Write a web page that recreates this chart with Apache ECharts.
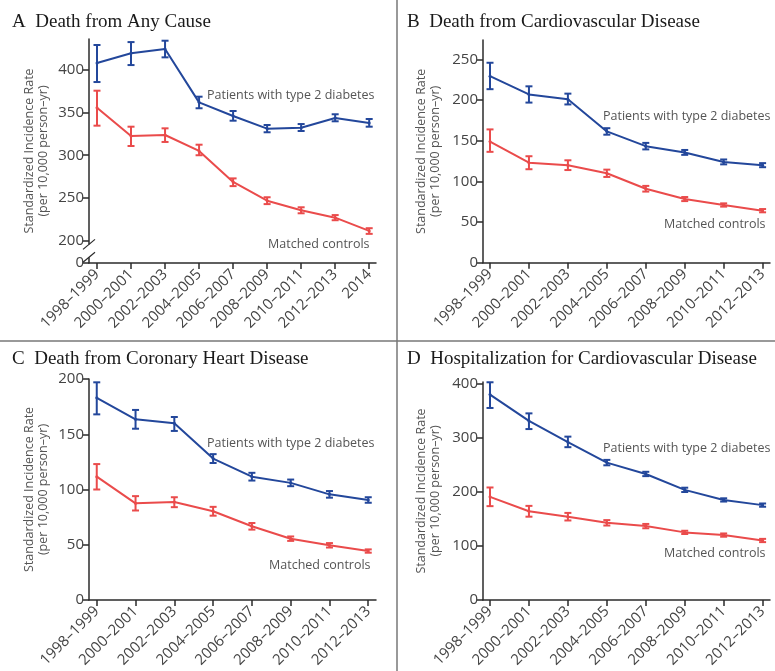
<!DOCTYPE html>
<html>
<head>
<meta charset="utf-8">
<script src="https://cdn.jsdelivr.net/npm/echarts@6/dist/echarts.min.js"></script>
<style>html,body{margin:0;padding:0;background:#fff}#c{width:775px;height:671px}</style>
</head>
<body>
<div id="c"></div>
<script>
// ---- Data ----
const catsA = ['1998–1999','2000–2001','2002–2003','2004–2005','2006–2007','2008–2009','2010–2011','2012–2013','2014'];
const catsBCD = ['1998–1999','2000–2001','2002–2003','2004–2005','2006–2007','2008–2009','2010–2011','2012–2013'];

// A: Death from any cause
const aDiab     = [407.6, 418.9, 423.9, 361.7, 345.8, 331.0, 332.1, 343.4, 337.6];
const aDiabLo   = [385.4, 405.2, 414.2, 354.8, 340.3, 326.8, 328.3, 339.6, 333.3];
const aDiabHi   = [428.6, 432.0, 433.6, 368.3, 351.6, 335.3, 336.4, 347.8, 342.3];
const aCtrl     = [355.5, 322.4, 323.6, 305.0, 268.8, 247.0, 235.8, 227.2, 211.7];
const aCtrlLo   = [334.5, 310.8, 315.5, 300.0, 264.0, 243.0, 232.3, 224.2, 208.3];
const aCtrlHi   = [375.3, 333.3, 331.4, 312.3, 273.0, 251.0, 239.3, 230.2, 214.9];
const aTicks    = [0, 200, 250, 300, 350, 400];

// B: Death from cardiovascular disease
const bDiab     = [229.5, 207.0, 201.0, 161.5, 143.4, 135.7, 124.0, 120.0];
const bDiabLo   = [213.5, 197.0, 194.7, 157.5, 139.4, 132.7, 121.0, 117.5];
const bDiabHi   = [246.0, 217.0, 208.0, 165.5, 147.4, 138.7, 127.0, 122.5];
const bCtrl     = [149.0, 123.0, 120.0, 110.0,  91.0,  78.3,  71.0,  64.0];
const bCtrlLo   = [136.4, 115.0, 114.0, 105.5,  87.5,  75.8,  69.0,  62.0];
const bCtrlHi   = [164.0, 131.0, 126.0, 114.5,  94.5,  80.8,  73.0,  66.0];
const bTicks    = [0, 50, 100, 150, 200, 250];

// C: Death from coronary heart disease
const cDiab     = [183.0, 163.5, 160.0, 128.0, 111.6, 106.0,  95.6,  90.5];
const cDiabLo   = [168.0, 155.0, 153.0, 124.0, 108.1, 103.0,  92.6,  88.0];
const cDiabHi   = [197.0, 172.0, 165.6, 132.0, 115.1, 109.0,  98.6,  93.0];
const cCtrl     = [111.6,  87.5,  88.7,  80.3,  66.7,  55.5,  49.5,  44.3];
const cCtrlLo   = [100.0,  81.0,  84.0,  76.3,  63.7,  53.5,  47.5,  42.8];
const cCtrlHi   = [123.0,  94.0,  93.0,  84.3,  69.7,  57.5,  51.5,  45.8];
const cTicks    = [0, 50, 100, 150, 200];

// D: Hospitalization for cardiovascular disease
const dDiab     = [379.7, 331.0, 292.0, 254.0, 233.0, 203.6, 185.0, 175.4];
const dDiabLo   = [355.0, 316.0, 282.5, 249.0, 229.0, 199.6, 182.0, 172.4];
const dDiabHi   = [402.5, 345.0, 302.0, 259.0, 237.0, 207.6, 188.0, 178.4];
const dCtrl     = [190.7, 164.0, 154.0, 142.7, 136.6, 125.0, 120.0, 110.0];
const dCtrlLo   = [173.5, 154.0, 147.0, 137.7, 132.6, 122.0, 117.0, 107.0];
const dCtrlHi   = [208.0, 174.0, 161.0, 147.7, 140.6, 128.0, 123.0, 113.0];
const dTicks    = [0, 100, 200, 300, 400];

const titles = ['A  Death from Any Cause', 'B  Death from Cardiovascular Disease',
                'C  Death from Coronary Heart Disease', 'D  Hospitalization for Cardiovascular Disease'];
const diabLabel = 'Patients with type 2 diabetes';
const ctrlLabel = 'Matched controls';
const yName = 'Standardized Incidence Rate\n(per 10,000 person–yr)';

// ---- Styles ----
const BLUE = '#23479b';
const RED = '#ea4b4b';
const AXIS = '#2b2b2b';
const LABEL = '#444';
const SANS = '"Open Sans", "Noto Sans", sans-serif';

// break: values below 200 on panel A are compressed; 0 label sits at axis min
const A_ZERO = 174.3;

const panels = [
  {cats: catsA, d: aDiab, dl: aDiabLo, dh: aDiabHi, c: aCtrl, cl: aCtrlLo, ch: aCtrlHi, ticks: aTicks,
   grid: {left: 89, top: 39, width: 287, height: 224}, xmin: -0.235, xmax: 8.2, ymin: A_ZERO, ymax: 435.6,
   title: [12, 13], diabPos: [207, 95], ctrlPos: [268, 244], nameGap: 39},
  {cats: catsBCD, d: bDiab, dl: bDiabLo, dh: bDiabHi, c: bCtrl, cl: bCtrlLo, ch: bCtrlHi, ticks: bTicks,
   grid: {left: 483, top: 40, width: 287, height: 222.7}, xmin: -0.18, xmax: 7.19, ymin: 0, ymax: 274,
   title: [407, 13], diabPos: [603, 116], ctrlPos: [664, 224], nameGap: 41},
  {cats: catsBCD, d: cDiab, dl: cDiabLo, dh: cDiabHi, c: cCtrl, cl: cCtrlLo, ch: cCtrlHi, ticks: cTicks,
   grid: {left: 89, top: 379, width: 287, height: 221}, xmin: -0.2, xmax: 7.2, ymin: 0, ymax: 200,
   title: [12, 350], diabPos: [207, 443], ctrlPos: [269, 565], nameGap: 39},
  {cats: catsBCD, d: dDiab, dl: dDiabLo, dh: dDiabHi, c: dCtrl, cl: dCtrlLo, ch: dCtrlHi, ticks: dTicks,
   grid: {left: 483, top: 382, width: 287, height: 218}, xmin: -0.18, xmax: 7.19, ymin: 0, ymax: 403,
   title: [407, 350], diabPos: [603, 448], ctrlPos: [664, 553], nameGap: 41}
];

function errorBar(color) {
  return function (params, api) {
    const x = api.value(0);
    const lo = api.coord([x, api.value(1)]);
    const hi = api.coord([x, api.value(2)]);
    const w = 3.5;
    const st = {stroke: color, lineWidth: 2};
    return {type: 'group', children: [
      {type: 'line', shape: {x1: lo[0], y1: lo[1], x2: hi[0], y2: hi[1]}, style: st},
      {type: 'line', shape: {x1: hi[0] - w, y1: hi[1], x2: hi[0] + w, y2: hi[1]}, style: st},
      {type: 'line', shape: {x1: lo[0] - w, y1: lo[1], x2: lo[0] + w, y2: lo[1]}, style: st}
    ]};
  };
}

const grids = [], xAxes = [], yAxes = [], series = [], graphics = [];
panels.forEach((p, k) => {
  grids.push(Object.assign({}, p.grid));
  const idx = p.cats.map((_, i) => i);
  xAxes.push({
    type: 'value', gridIndex: k, min: p.xmin, max: p.xmax,
    axisLine: {show: true, onZero: false, lineStyle: {color: AXIS, width: 1.5}},
    splitLine: {show: false},
    axisTick: {show: true, customValues: idx, length: 6, lineStyle: {color: AXIS, width: 1.5}},
    axisLabel: {customValues: idx, formatter: v => p.cats[Math.round(v)], rotate: 45,
                fontFamily: SANS, fontSize: 15, color: LABEL, margin: 9}
  });
  const tickVals = p.ticks.map(t => (k === 0 && t === 0) ? A_ZERO : t);
  yAxes.push({
    type: 'value', gridIndex: k, min: p.ymin, max: p.ymax,
    axisLine: {show: true, onZero: false, lineStyle: {color: AXIS, width: 1.5}},
    splitLine: {show: false},
    axisTick: {show: true, customValues: tickVals, length: 6, lineStyle: {color: AXIS, width: 1.5}},
    axisLabel: {customValues: tickVals, formatter: v => (k === 0 && v < 190) ? '0' : String(v),
                fontFamily: SANS, fontSize: 15, color: LABEL, margin: 5},
    name: yName, nameLocation: 'middle', nameRotate: 90, nameGap: p.nameGap,
    nameTextStyle: {fontFamily: SANS, fontSize: 12.5, color: '#555', lineHeight: 14}
  });
  const line = (vals, color) => ({
    type: 'line', xAxisIndex: k, yAxisIndex: k, data: vals.map((v, i) => [i, v]),
    lineStyle: {color: color, width: 2}, itemStyle: {color: color},
    symbol: 'circle', symbolSize: 3, showSymbol: true, silent: true, z: 3, animation: false
  });
  const eb = (lo, hi, color) => ({
    type: 'custom', xAxisIndex: k, yAxisIndex: k, renderItem: errorBar(color),
    data: lo.map((v, i) => [i, v, hi[i]]), z: 4, silent: true, animation: false
  });
  series.push(line(p.c, RED), eb(p.cl, p.ch, RED), line(p.d, BLUE), eb(p.dl, p.dh, BLUE));

  graphics.push({type: 'text', left: p.title[0], top: p.title[1],
    style: {text: titles[k], font: '19px "Liberation Serif", "DejaVu Serif", serif', fill: '#1a1a1a'}});
  graphics.push({type: 'text', x: p.diabPos[0], y: p.diabPos[1],
    style: {text: diabLabel, font: '12.5px ' + SANS, fill: '#555', verticalAlign: 'middle'}});
  graphics.push({type: 'text', x: p.ctrlPos[0], y: p.ctrlPos[1],
    style: {text: ctrlLabel, font: '12.5px ' + SANS, fill: '#555', verticalAlign: 'middle'}});
});

// panel dividers
graphics.push({type: 'line', shape: {x1: 397, y1: 0, x2: 397, y2: 671}, style: {stroke: '#777', lineWidth: 1.5}});
graphics.push({type: 'line', shape: {x1: 0, y1: 341, x2: 775, y2: 341}, style: {stroke: '#777', lineWidth: 1.5}});

const chart = echarts.init(document.getElementById('c'), null, {renderer: 'canvas'});
chart.setOption({
  animation: false, backgroundColor: '#fff',
  grid: grids, xAxis: xAxes, yAxis: yAxes, series: series, graphic: graphics
});

// axis-break mark on panel A, placed from the axis scale
const pTop = chart.convertToPixel({gridIndex: 0}, [panels[0].xmin, 196]);
const pBot = chart.convertToPixel({gridIndex: 0}, [panels[0].xmin, 181]);
const bx = pTop[0], yT = pTop[1], yB = pBot[1];
graphics.push({type: 'rect', shape: {x: bx - 3, y: yT, width: 6, height: yB - yT}, style: {fill: '#fff'}, z: 50});
graphics.push({type: 'line', shape: {x1: bx - 6, y1: yT + 5, x2: bx + 6, y2: yT - 5}, style: {stroke: AXIS, lineWidth: 1.2}, z: 51});
graphics.push({type: 'line', shape: {x1: bx - 6, y1: yB + 5, x2: bx + 6, y2: yB - 5}, style: {stroke: AXIS, lineWidth: 1.2}, z: 51});
chart.setOption({graphic: graphics});
</script>
</body>
</html>
